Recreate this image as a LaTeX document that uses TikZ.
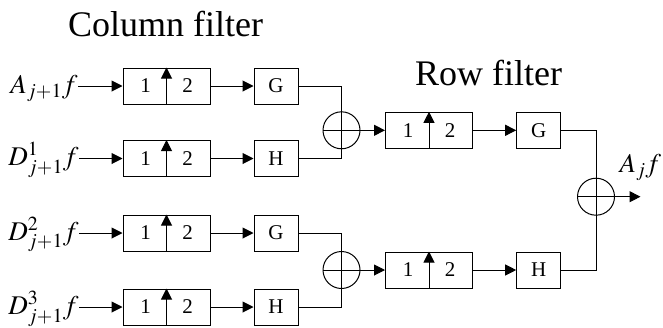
\documentclass[tikz,border=0pt]{standalone}
\usepackage{mathptmx}
\usepackage{fontspec}
\setmainfont{Liberation Serif}
\usetikzlibrary{arrows.meta,calc}

\tikzset{
  every path/.style={line width=1pt},
  updown/.style={draw, rectangle, minimum width=87pt, minimum height=36pt, inner sep=0pt},
  filt/.style={draw, rectangle, minimum width=44pt, minimum height=36pt, inner sep=0pt,
    font=\fontsize{21}{21}\selectfont},
  digit/.style={inner sep=0pt, font=\fontsize{21}{21}\selectfont},
  summer/.style={draw, circle, minimum size=37pt, inner sep=0pt},
  sig/.style={inner sep=0pt, font=\fontsize{27}{27}\selectfont},
  title/.style={inner sep=0pt, font=\fontsize{36}{36}\selectfont},
  arr/.style={-{Triangle[length=11pt,width=11pt]}},
}

% upsampling block: box split in two with an upward arrow
\newcommand{\upblock}[2]{%
  \node[updown] (#1) at #2 {};
  \draw[arr] (#1.south) -- (#1.north);
  \node[digit] (#1a) at ([xshift=-21pt]#1.center) {1};
  \node[digit] (#1b) at ([xshift=21pt]#1.center) {2};
}

\begin{document}
\begin{tikzpicture}[x=1pt,y=-1pt]
\useasboundingbox (0,0) rectangle (663,327);

% titles
\node[title, anchor=base] (tcol) at (165.5,36) {Column filter};
\node[title, anchor=base] (trow) at (488.5,85) {Row filter};

% column filter stage
\upblock{ua}{(166.5,86)}
\upblock{ub}{(166.5,158.5)}
\upblock{uc}{(166.5,233)}
\upblock{ud}{(166.5,307)}

\node[filt] (ga) at (276,86) {G};
\node[filt] (hb) at (276,158.5) {H};
\node[filt] (gc) at (276,233) {G};
\node[filt] (hd) at (276,307) {H};

% input signals
\node[sig, anchor=base east] (ina) at (78,93) {$A_{j+1}f$};
\node[sig, anchor=base east] (inb) at (79,165.5) {$D^{1}_{j+1}f$};
\node[sig, anchor=base east] (inc) at (79,240) {$D^{2}_{j+1}f$};
\node[sig, anchor=base east] (ind) at (79,314) {$D^{3}_{j+1}f$};

\draw[arr] (ina.east |- ua) -- (ua.west);
\draw[arr] (inb.east |- ub) -- (ub.west);
\draw[arr] (inc.east |- uc) -- (uc.west);
\draw[arr] (ind.east |- ud) -- (ud.west);

\draw[arr] (ua.east) -- (ga.west);
\draw[arr] (ub.east) -- (hb.west);
\draw[arr] (uc.east) -- (gc.west);
\draw[arr] (ud.east) -- (hd.west);

% adders after the column stage
\node[summer] (sa) at (341.5,130.3) {};
\node[summer] (sb) at (341.5,270) {};
\draw (ga.east) -| (sa.center) |- (hb.east);
\draw (gc.east) -| (sb.center) |- (hd.east);

% row filter stage
\upblock{ra}{(429,130.3)}
\upblock{rb}{(429,270)}
\node[filt] (rg) at (538.7,130.3) {G};
\node[filt] (rh) at (538.7,270) {H};

\draw[arr] (sa.west) -- (ra.west);
\draw[arr] (sb.west) -- (rb.west);
\draw[arr] (ra.east) -- (rg.west);
\draw[arr] (rb.east) -- (rh.west);

% final adder and output
\node[summer] (sc) at (596,196.7) {};
\draw (rg.east) -| (sc.center) |- (rh.east);
\coordinate (out) at (640.5,196.7);
\draw[arr] (sc.west) -- (out);
\node[sig, anchor=base west] (outlab) at (619,172) {$A_{j}f$};
\end{tikzpicture}
\end{document}
